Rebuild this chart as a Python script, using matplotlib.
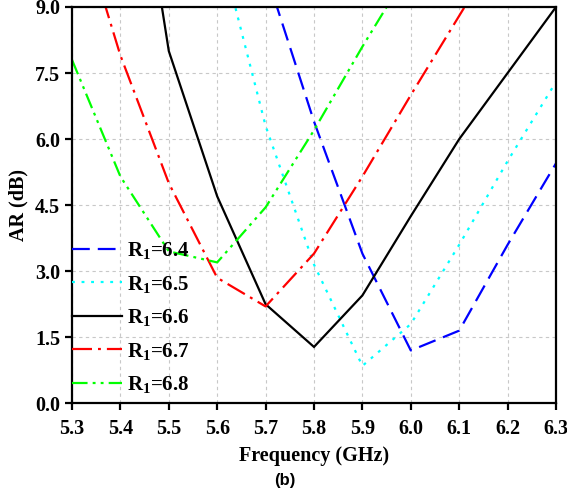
import matplotlib
matplotlib.use("Agg")
import matplotlib.pyplot as plt
import numpy as np

plt.rcParams['font.family'] = ['Liberation Serif', 'DejaVu Serif']
plt.rcParams['font.weight'] = 'bold'
plt.rcParams['mathtext.fontset'] = 'custom'
plt.rcParams['mathtext.rm'] = 'Liberation Serif:bold'
plt.rcParams['mathtext.bf'] = 'Liberation Serif:bold'
plt.rcParams['mathtext.it'] = 'Liberation Serif:bold'
plt.rcParams['mathtext.default'] = 'bf'

freq = [5.3, 5.4, 5.5, 5.6, 5.7, 5.8, 5.9, 6.0, 6.1, 6.2, 6.3]
ar_64 = [None, None, None, None, 9.8, 6.4, 3.4, 1.2, 1.65, 3.6, 5.45]
ar_65 = [None, None, None, 10.6, 6.3, 3.15, 0.85, 1.8, 3.6, 5.5, 7.3]
ar_66 = [None, 15.0, 8.0, 4.7, 2.25, 1.28, 2.45, 4.25, 6.0, 7.5, 9.0]
ar_67 = [11.5, 7.9, 5.0, 2.85, 2.2, 3.4, 5.15, 7.0, 8.8, 10.6, None]
ar_68 = [7.8, 5.15, 3.45, 3.2, 4.45, 6.2, 8.1, 9.9, None, None, None]

labels = ['R$_1$=6.4', 'R$_1$=6.5', 'R$_1$=6.6', 'R$_1$=6.7', 'R$_1$=6.8']
colors = ['#0000ff', '#00ffff', '#000000', '#ff0000', '#00ff00']
styles = [(0, (8, 3.6)), (0, (1.3, 3.0)), '-', (0, (9, 2.7, 1.3, 2.7)),
          (0, (7, 2.3, 1.3, 2.3, 1.3, 2.3))]

xticks = [5.3, 5.4, 5.5, 5.6, 5.7, 5.8, 5.9, 6.0, 6.1, 6.2, 6.3]
yticks = [0.0, 1.5, 3.0, 4.5, 6.0, 7.5, 9.0]

fig = plt.figure(figsize=(5.67, 4.92), dpi=100)
ax = fig.add_axes([72/567, 1-403.3/492, (556-72)/567, (403.3-7)/492])

series = [ar_64, ar_65, ar_66, ar_67, ar_68]
for ys, lab, c, ls in zip(series, labels, colors, styles):
    x = np.array([f for f, y in zip(freq, ys) if y is not None])
    y = np.array([y for y in ys if y is not None])
    ax.plot(x, y, color=c, linestyle=ls, linewidth=1.6, label=lab,
            dash_capstyle='butt', solid_joinstyle='miter')

ax.set_xlim(5.3, 6.3)
ax.set_ylim(0, 9.0)
ax.set_xticks(xticks)
ax.set_yticks(yticks)
ax.set_xticklabels([f"{v:.1f}" for v in xticks])
ax.set_yticklabels([f"{v:.1f}" for v in yticks])
ax.grid(True, color='#c8c8c8', linestyle=(0, (3, 3)), linewidth=0.8)
ax.set_axisbelow(True)
for s in ax.spines.values():
    s.set_linewidth(1.6)
ax.tick_params(axis='both', direction='out', length=5, width=1.6, labelsize=14.5)
ax.tick_params(axis='x', pad=6.5)
ax.tick_params(axis='y', pad=3.5)
for lbl in ax.get_xticklabels() + ax.get_yticklabels():
    lbl.set_fontweight('bold')

ax.set_xlabel('Frequency (GHz)', fontsize=14.5, fontweight='bold', labelpad=5)
ax.set_ylabel('AR (dB)', fontsize=14.5, fontweight='bold', labelpad=5)

leg = ax.legend(loc='upper left', bbox_to_anchor=(0.0, 0.412), frameon=False,
                fontsize=15, handlelength=2.4, handletextpad=0.25,
                labelspacing=0.6, borderaxespad=0.0, borderpad=0.0)

fig.text(285/567, 1-480/492, '(b)', fontsize=12, fontweight='bold',
         family=['Liberation Sans', 'DejaVu Sans'], ha='center', va='center')

fig.savefig('out.png', dpi=100)
